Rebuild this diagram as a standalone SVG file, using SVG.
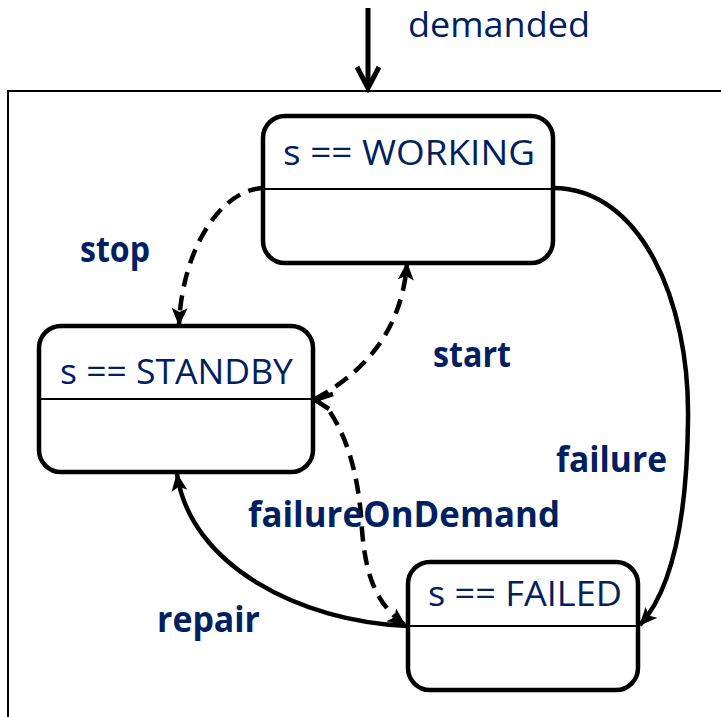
<svg xmlns="http://www.w3.org/2000/svg" width="721" height="717" viewBox="0 0 721 717">
  <style>
    .state { fill: #ffffff; stroke: #000000; stroke-width: 4.5; }
    .divider { stroke: #000000; stroke-width: 2; }
    .name { font-family: "Open Sans", "Liberation Sans", sans-serif; font-size: 35px; fill: #002060; }
    .event { font-family: "Open Sans", "Liberation Sans", sans-serif; font-size: 35px; font-weight: 700; fill: #002060; }
    .edge { fill: none; stroke: #000000; stroke-width: 4.5; }
    .dashed { stroke-dasharray: 15 9; }
  </style>
  <defs>
    <marker id="head" viewBox="0 0 18 16" refX="17" refY="8" markerWidth="18" markerHeight="16" markerUnits="userSpaceOnUse" orient="auto">
      <path d="M0,0 L18,8 L0,16 L4,8 z" fill="#000000"/>
    </marker>
  </defs>

  <rect width="721" height="717" fill="#ffffff"/>

  <!-- enclosing component frame -->
  <rect id="frame" x="8" y="91" width="730" height="650" fill="none" stroke="#000000" stroke-width="2"/>

  <!-- incoming "demanded" trigger -->
  <g id="demanded">
    <line x1="368" y1="8" x2="368" y2="88" stroke="#000000" stroke-width="5"/>
    <polyline points="357,67 368,88 379,67" fill="none" stroke="#000000" stroke-width="5"/>
    <text class="name" x="408" y="37" textLength="182" lengthAdjust="spacingAndGlyphs">demanded</text>
  </g>

  <g id="connectors">
    <!-- stop: WORKING -> STANDBY -->
    <path class="edge dashed" d="M263,188 C220,190 182,250 179,325" marker-end="url(#head)"/>
    <!-- start: STANDBY -> WORKING -->
    <path class="edge dashed" d="M315,399 C365,372 402,330 407,263" marker-end="url(#head)"/>
    <!-- failureOnDemand: STANDBY -> FAILED -->
    <path class="edge dashed" d="M330,412 C352,445 360,490 362,530 C366,580 378,605 405,625" marker-end="url(#head)"/>
    <!-- open chevron at the STANDBY side -->
    <polyline points="333,394 315,400 329,409" fill="none" stroke="#000000" stroke-width="4.5"/>
    <!-- failure: WORKING -> FAILED -->
    <path class="edge" d="M553,188 C640,188 690,300 688,420 C687,520 672,590 640,625" marker-end="url(#head)"/>
    <!-- repair: FAILED -> STANDBY -->
    <path class="edge" d="M408,626 C300,622 190,565 177,474" marker-end="url(#head)"/>
  </g>

  <g id="working">
    <rect class="state" x="263" y="116" width="290" height="147" rx="22"/>
    <line class="divider" x1="263" y1="189" x2="553" y2="189"/>
    <text class="name" x="283" y="165" textLength="252" lengthAdjust="spacingAndGlyphs">s == WORKING</text>
  </g>

  <g id="standby">
    <rect class="state" x="39" y="326" width="274" height="146" rx="22"/>
    <line class="divider" x1="39" y1="399" x2="313" y2="399"/>
    <text class="name" x="60" y="384" textLength="233" lengthAdjust="spacingAndGlyphs">s == STANDBY</text>
  </g>

  <g id="failed">
    <rect class="state" x="408" y="562" width="230" height="128" rx="22"/>
    <line class="divider" x1="408" y1="626" x2="638" y2="626"/>
    <text class="name" x="428" y="606" textLength="194" lengthAdjust="spacingAndGlyphs">s == FAILED</text>
  </g>

  <g id="labels">
    <text class="event" x="80" y="262" textLength="70" lengthAdjust="spacingAndGlyphs">stop</text>
    <text class="event" x="433" y="367" textLength="78" lengthAdjust="spacingAndGlyphs">start</text>
    <text class="event" x="556" y="472" textLength="111" lengthAdjust="spacingAndGlyphs">failure</text>
    <text class="event" x="248" y="527" textLength="312" lengthAdjust="spacingAndGlyphs">failureOnDemand</text>
    <text class="event" x="157" y="632" textLength="103" lengthAdjust="spacingAndGlyphs">repair</text>
  </g>
</svg>
